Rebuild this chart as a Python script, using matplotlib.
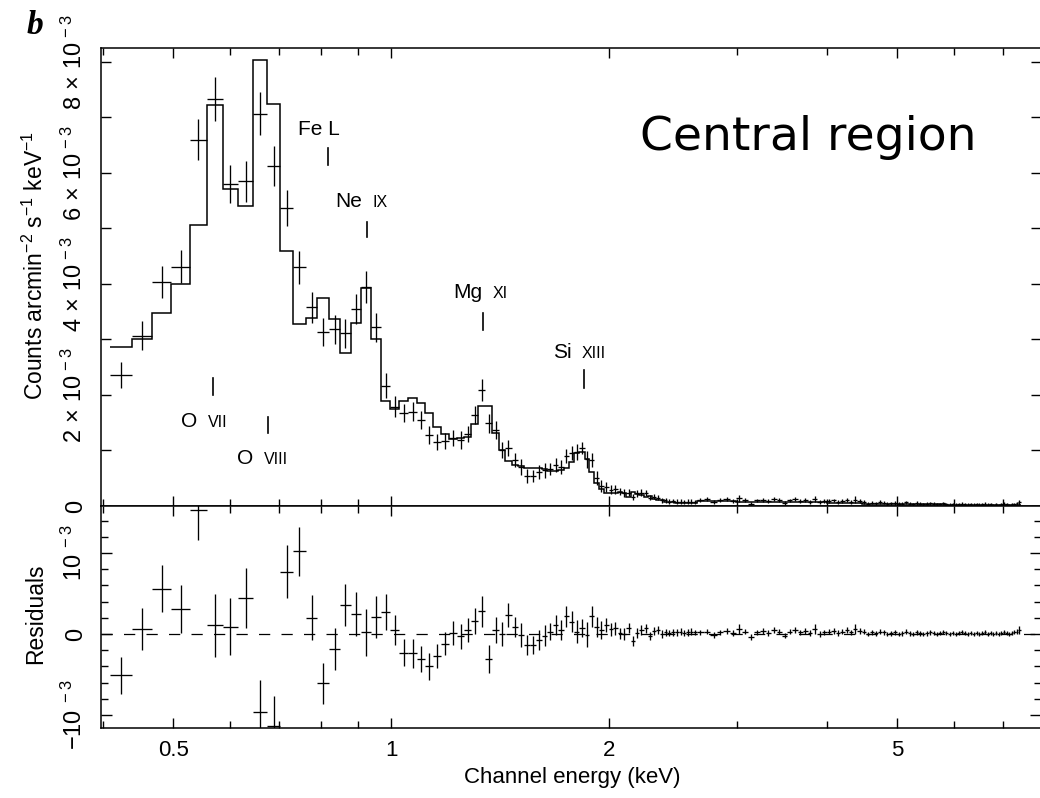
import numpy as np
import matplotlib
matplotlib.use("Agg")
import matplotlib.pyplot as plt
from matplotlib.ticker import FixedLocator, FixedFormatter, NullFormatter

plt.rcParams['font.family'] = ['Liberation Sans', 'DejaVu Sans']
plt.rcParams['mathtext.fontset'] = 'custom'
plt.rcParams['mathtext.rm'] = 'Liberation Sans'
plt.rcParams['mathtext.it'] = 'Liberation Sans:italic'
plt.rcParams['mathtext.bf'] = 'Liberation Sans:bold'

# ---------------------------------------------------------------- data
# channel bin edges (keV): single channels below 2.64 keV, pairs above
bin_edges = [
    0.409, 0.438, 0.468, 0.497, 0.527, 0.556, 0.585, 0.615, 0.644, 0.674,
    0.703, 0.732, 0.762, 0.791, 0.821, 0.850, 0.879, 0.909, 0.938, 0.968,
    0.997, 1.026, 1.056, 1.085, 1.115, 1.144, 1.173, 1.203, 1.232, 1.262,
    1.291, 1.320, 1.350, 1.379, 1.409, 1.438, 1.467, 1.497, 1.526, 1.556,
    1.585, 1.614, 1.644, 1.673, 1.703, 1.732, 1.761, 1.791, 1.820, 1.850,
    1.879, 1.908, 1.938, 1.967, 1.997, 2.026, 2.055, 2.085, 2.114, 2.144,
    2.173, 2.202, 2.232, 2.261, 2.291, 2.320, 2.349, 2.379, 2.408, 2.438,
    2.467, 2.496, 2.526, 2.555, 2.585, 2.614, 2.643,
    2.702, 2.761, 2.820, 2.878, 2.937, 2.996, 3.055, 3.114, 3.173, 3.231,
    3.290, 3.349, 3.408, 3.467, 3.525, 3.584, 3.643, 3.702, 3.761, 3.819,
    3.878, 3.937, 3.996, 4.055, 4.113, 4.172, 4.231, 4.290, 4.349, 4.407,
    4.466, 4.525, 4.584, 4.643, 4.701, 4.760, 4.819, 4.878, 4.937, 4.995,
    5.054, 5.113, 5.172, 5.231, 5.289, 5.348, 5.407, 5.466, 5.525, 5.583,
    5.642, 5.701, 5.760, 5.819, 5.877, 5.936, 5.995, 6.054, 6.113, 6.171,
    6.230, 6.289, 6.348, 6.407, 6.465, 6.524, 6.583, 6.642, 6.701, 6.759,
    6.818, 6.877, 6.936, 6.995, 7.053, 7.112, 7.171, 7.230, 7.289, 7.347,
    7.406,
]

# observed count rate, units of 1e-3 counts arcmin^-2 s^-1 keV^-1
counts = [
    2.36, 3.07, 4.04, 4.31, 6.60, 7.33, 5.80, 5.85, 7.07, 6.12,
    5.37, 4.30, 3.58, 3.13, 3.18, 3.11, 3.55, 3.95, 3.22, 2.17,
    1.79, 1.67, 1.70, 1.55, 1.28, 1.15, 1.17, 1.22, 1.19, 1.29,
    1.64, 2.09, 1.49, 1.37, 1.01, 1.04, 0.83, 0.71, 0.54, 0.54,
    0.62, 0.64, 0.66, 0.74, 0.70, 0.90, 0.95, 0.98, 1.04, 0.84,
    0.83, 0.50, 0.36, 0.35, 0.29, 0.30, 0.26, 0.23, 0.24, 0.16,
    0.23, 0.24, 0.23, 0.15, 0.17, 0.15, 0.10, 0.10, 0.08, 0.09,
    0.08, 0.08, 0.07, 0.08, 0.08, 0.07,
    0.110, 0.120, 0.080, 0.105, 0.125, 0.095, 0.140, 0.110, 0.040, 0.100,
    0.115, 0.085, 0.125, 0.105, 0.050, 0.100, 0.120, 0.090, 0.110, 0.075,
    0.125, 0.065, 0.085, 0.090, 0.100, 0.070, 0.090, 0.105, 0.075, 0.115,
    0.090, 0.075, 0.045, 0.060, 0.050, 0.070, 0.060, 0.038, 0.048, 0.056,
    0.036, 0.045, 0.064, 0.044, 0.033, 0.052, 0.042, 0.031, 0.040, 0.050,
    0.039, 0.029, 0.038, 0.048, 0.037, 0.027, 0.036, 0.026, 0.035, 0.045,
    0.034, 0.024, 0.033, 0.023, 0.032, 0.022, 0.032, 0.041, 0.021, 0.030,
    0.020, 0.030, 0.019, 0.029, 0.039, 0.028, 0.018, 0.028, 0.037, 0.047,
    0.067,
]

# 1-sigma uncertainties, same units
errors = [
    0.23, 0.26, 0.29, 0.30, 0.37, 0.39, 0.35, 0.37, 0.39, 0.36,
    0.33, 0.30, 0.28, 0.25, 0.26, 0.26, 0.27, 0.29, 0.26, 0.22,
    0.185, 0.165, 0.175, 0.165, 0.165, 0.145, 0.145, 0.145, 0.155, 0.145,
    0.165, 0.195, 0.175, 0.165, 0.145, 0.145, 0.125, 0.145, 0.125, 0.11,
    0.125, 0.13, 0.11, 0.125, 0.125, 0.13, 0.13, 0.145, 0.11, 0.155,
    0.13, 0.125, 0.11, 0.09, 0.08, 0.08, 0.07, 0.07, 0.06, 0.06,
    0.06, 0.06, 0.055, 0.05, 0.05, 0.05, 0.045, 0.045, 0.04, 0.04,
    0.04, 0.04, 0.04, 0.04, 0.04, 0.035,
    0.035, 0.035, 0.035, 0.035, 0.035, 0.035, 0.060, 0.035, 0.035, 0.035,
    0.035, 0.035, 0.035, 0.035, 0.035, 0.035, 0.035, 0.035, 0.035, 0.035,
    0.060, 0.035, 0.035, 0.035, 0.035, 0.035, 0.035, 0.035, 0.035, 0.060,
    0.035, 0.030, 0.030, 0.030, 0.030, 0.030, 0.030, 0.030, 0.030, 0.030,
    0.030, 0.030, 0.030, 0.030, 0.030, 0.030, 0.030, 0.030, 0.030, 0.030,
    0.025, 0.025, 0.025, 0.025, 0.025, 0.025, 0.025, 0.025, 0.025, 0.025,
    0.025, 0.025, 0.025, 0.025, 0.025, 0.025, 0.025, 0.025, 0.025, 0.025,
    0.025, 0.025, 0.025, 0.025, 0.025, 0.025, 0.025, 0.025, 0.025, 0.030,
    0.050,
]

# folded best-fit model, same units
model = [
    2.87, 3.01, 3.48, 4.00, 5.07, 7.22, 5.71, 5.40, 8.03, 7.25,
    4.60, 3.28, 3.38, 3.74, 3.36, 2.75, 3.30, 3.93, 3.01, 1.90,
    1.74, 1.90, 1.94, 1.86, 1.68, 1.42, 1.29, 1.21, 1.22, 1.24,
    1.48, 1.81, 1.80, 1.32, 1.01, 0.805, 0.74, 0.72, 0.68, 0.68,
    0.69, 0.66, 0.63, 0.63, 0.65, 0.68, 0.80, 0.95, 0.97, 0.85,
    0.61, 0.41, 0.31, 0.24, 0.23, 0.23, 0.25, 0.23, 0.17, 0.25,
    0.22, 0.19, 0.16, 0.18, 0.13, 0.10, 0.10, 0.08, 0.07, 0.07,
    0.06, 0.05, 0.06, 0.06, 0.05, 0.05,
    0.090, 0.090, 0.090, 0.085, 0.085, 0.085, 0.080, 0.080, 0.080, 0.080,
    0.075, 0.075, 0.075, 0.075, 0.070, 0.070, 0.070, 0.070, 0.070, 0.065,
    0.065, 0.065, 0.065, 0.060, 0.060, 0.060, 0.060, 0.055, 0.055, 0.055,
    0.050, 0.045, 0.045, 0.040, 0.040, 0.040, 0.040, 0.038, 0.038, 0.036,
    0.036, 0.035, 0.034, 0.034, 0.033, 0.032, 0.032, 0.031, 0.030, 0.030,
    0.029, 0.029, 0.028, 0.028, 0.027, 0.027, 0.026, 0.026, 0.025, 0.025,
    0.024, 0.024, 0.023, 0.023, 0.022, 0.022, 0.022, 0.021, 0.021, 0.020,
    0.020, 0.020, 0.019, 0.019, 0.019, 0.018, 0.018, 0.018, 0.017, 0.017,
    0.017,
]

# emission-line identifications (keV)
line_energy = [0.567, 0.677, 0.818, 0.926, 1.341, 1.844]
line_element = ['O', 'O', 'Fe L', 'Ne', 'Mg', 'Si']
line_stage = ['VII', 'VIII', '', 'IX', 'XI', 'XIII']

x_ticks = [0.5, 1, 2, 5]
x_tick_labels = ['0.5', '1', '2', '5']
x_minor = [0.4, 0.6, 0.7, 0.8, 0.9, 3, 4, 6, 7]

UNIT = 1e-3
assert len(bin_edges) == len(counts) + 1 == len(errors) + 1 == len(model) + 1

edges = np.asarray(bin_edges)
centre = 0.5 * (edges[:-1] + edges[1:])
half = 0.5 * np.diff(edges)
rate = np.asarray(counts) * UNIT
sigma = np.asarray(errors) * UNIT
fit = np.asarray(model) * UNIT
resid = rate - fit

# ---------------------------------------------------------------- figure
W, H = 1040, 798
fig = plt.figure(figsize=(W / 100, H / 100), dpi=100)
x0, x1 = 101, 1041
top_box = [x0 / W, 1 - 506 / H, (x1 - x0) / W, (506 - 48) / H]
bot_box = [x0 / W, 1 - 728 / H, (x1 - x0) / W, (728 - 506) / H]
ax = fig.add_axes(top_box)
axr = fig.add_axes(bot_box, sharex=ax)

LW = 0.95
for a in (ax, axr):
    a.set_xscale('log')
    for s in a.spines.values():
        s.set_linewidth(1.1)
    a.tick_params(which='both', direction='in', top=True, right=True,
                  width=1.0, labelsize=16)
    a.tick_params(which='major', length=7)
    a.tick_params(which='minor', length=5)

ax.set_xlim(0.3975, 7.9)
axr.xaxis.set_major_locator(FixedLocator(x_ticks))
axr.xaxis.set_major_formatter(FixedFormatter(x_tick_labels))
axr.xaxis.set_minor_locator(FixedLocator(x_minor))
axr.xaxis.set_minor_formatter(NullFormatter())
ax.tick_params(axis='x', which='both', labelbottom=False)
axr.tick_params(axis='x', which='major', pad=9)

# spectrum with folded model
ax.errorbar(centre, rate, xerr=half, yerr=sigma, fmt='none',
            ecolor='k', elinewidth=LW, capsize=0)
ax.stairs(fit, edges, baseline=None, color='k', linewidth=1.1)
ax.set_ylim(0, 8.25e-3)
ax.yaxis.set_major_locator(FixedLocator([0, 2e-3, 4e-3, 6e-3, 8e-3]))
ax.yaxis.set_major_formatter(FixedFormatter(
    ['0'] + [r'$%d\,\times\,10^{\,-3}$' % v for v in (2, 4, 6, 8)]))
ax.yaxis.set_minor_locator(FixedLocator([1e-3, 3e-3, 5e-3, 7e-3]))
ax.tick_params(axis='y', which='both', length=7)

# residuals
axr.errorbar(centre, resid, xerr=half, yerr=sigma, fmt='none',
             ecolor='k', elinewidth=LW, capsize=0)
axr.axhline(0, color='k', linewidth=0.9, linestyle=(0, (9, 9)))
axr.set_ylim(-1.16e-3, 1.58e-3)
axr.yaxis.set_major_locator(FixedLocator([-1e-3, 0, 1e-3]))
axr.yaxis.set_major_formatter(FixedFormatter(
    [r'$-10^{\,\,-3}$', '0', r'$10^{\,\,-3}$']))
axr.yaxis.set_minor_locator(FixedLocator(
    [-0.8e-3, -0.6e-3, -0.4e-3, -0.2e-3, 0.2e-3, 0.4e-3, 0.6e-3,
     0.8e-3, 1.2e-3, 1.4e-3]))
axr.tick_params(axis='y', which='major', length=8)
axr.tick_params(axis='y', which='minor', length=5)

for a in (ax, axr):
    for lab in a.get_yticklabels():
        lab.set_rotation(90)
        lab.set_va('center')
        lab.set_fontsize(17)
    a.tick_params(axis='y', pad=10)

ax.set_ylabel(r'Counts arcmin$^{-2}$ s$^{-1}$ keV$^{-1}$', fontsize=16.5)
ax.yaxis.set_label_coords(-0.057, 0.526)
axr.set_ylabel('Residuals', fontsize=16.5)
axr.yaxis.set_label_coords(-0.057, 0.516)
axr.set_xlabel('Channel energy (keV)', fontsize=16)
axr.xaxis.set_label_coords(0.5016, -0.175)

# line identifications: (mark bottom, mark top, label x, label baseline)
layout = [
    (2.00e-3, 2.31e-3, 0.549, 1.42e-3),
    (1.32e-3, 1.60e-3, 0.656, 0.757e-3),
    (6.14e-3, 6.45e-3, 0.7955, 6.68e-3),
    (4.85e-3, 5.12e-3, 0.9265, 5.39e-3),
    (3.17e-3, 3.48e-3, 1.359, 3.75e-3),
    (2.13e-3, 2.45e-3, 1.804, 2.67e-3),
]
for e, el, st, (lo, hi, lx, ly) in zip(line_energy, line_element,
                                       line_stage, layout):
    ax.plot([e, e], [lo, hi], color='k', linewidth=1.2)
    if st:
        ax.annotate(el, (lx, ly), xytext=(-3.6, 0), textcoords='offset points',
                    ha='right', va='baseline', fontsize=15)
        ax.annotate(st, (lx, ly), xytext=(3.6, 0), textcoords='offset points',
                    ha='left', va='baseline', fontsize=11.5)
    else:
        ax.text(lx, ly, el, ha='center', va='baseline', fontsize=15)

fig.text(640 / W, 1 - 150 / H, 'Central region', fontsize=34,
         family='DejaVu Sans', ha='left', va='baseline')
fig.text(27 / W, 1 - 34 / H, 'b', fontsize=24, family='Liberation Serif',
         style='italic', weight='bold', ha='left', va='baseline')

fig.savefig('out.png', dpi=100)
